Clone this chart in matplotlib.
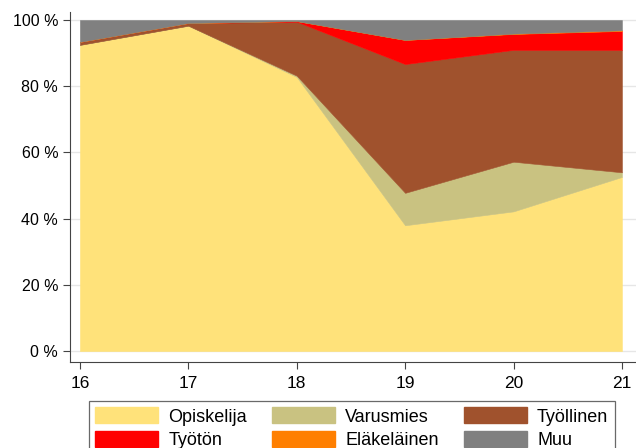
import matplotlib
matplotlib.use("Agg")
import matplotlib.pyplot as plt
from matplotlib.patches import Patch

plt.rcParams['font.family'] = ['Liberation Sans', 'DejaVu Sans']

ages = [16, 17, 18, 19, 20, 21]
series_names = ["Opiskelija", "Varusmies", "Työllinen", "Työtön", "Eläkeläinen", "Muu"]
opiskelija = [92.5, 98.3, 82.8, 38.0, 42.2, 52.6]
varusmies = [0.0, 0.0, 0.4, 9.8, 15.0, 1.4]
tyollinen = [0.9, 0.8, 16.3, 38.9, 33.8, 37.0]
tyoton = [0.0, 0.0, 0.2, 7.3, 4.8, 5.7]
elakelainen = [0.0, 0.0, 0.0, 0.0, 0.1, 0.2]
muu = [6.6, 0.9, 0.3, 6.0, 4.1, 3.1]
colors = ["#FFE27A", "#C9C281", "#A0522D", "#FF0000", "#FF7F00", "#808080"]
yticks = [0, 20, 40, 60, 80, 100]
ytick_labels = ["0 %", "20 %", "40 %", "60 %", "80 %", "100 %"]

fig = plt.figure(figsize=(6.36, 4.48), dpi=100)
ax = fig.add_axes([0.110, 0.192, 0.890, 0.781])

polys = ax.stackplot(ages, opiskelija, varusmies, tyollinen, tyoton, elakelainen, muu,
                     colors=colors, linewidth=0, zorder=2)
for p, c in zip(polys, colors):
    p.set_edgecolor(c)
    p.set_linewidth(0.4)

ax.set_xlim(15.908, 21.13)
ax.set_ylim(-3.3, 102.4)
ax.set_xticks(ages)
ax.set_yticks(yticks)
ax.set_yticklabels(ytick_labels)
ax.yaxis.grid(True, color="#e6e6e6", linewidth=1.0, zorder=0)
ax.set_axisbelow(True)
for s in ["top", "right"]:
    ax.spines[s].set_visible(False)
for s in ["left", "bottom"]:
    ax.spines[s].set_color("#444444")
    ax.spines[s].set_linewidth(0.8)
ax.tick_params(axis="both", direction="out", length=5, width=0.8, colors="#444444",
               labelcolor="black")
ax.tick_params(axis="y", labelsize=11.5)
ax.tick_params(axis="x", labelsize=12.5, pad=5)

handles = [Patch(facecolor=c, edgecolor=c) for c in colors]
order = [0, 3, 1, 4, 2, 5]
leg = fig.legend([handles[i] for i in order], [series_names[i] for i in order],
                 ncol=3, loc="upper center", bbox_to_anchor=(0.553, 0.105),
                 fancybox=False, edgecolor="#444444", fontsize=13,
                 handlelength=3.5, handleheight=1.0, columnspacing=1.4,
                 handletextpad=0.55, labelspacing=0.28, borderpad=0.35,
                 borderaxespad=0)
leg.get_frame().set_linewidth(0.9)

fig.savefig("out.png", dpi=100)
